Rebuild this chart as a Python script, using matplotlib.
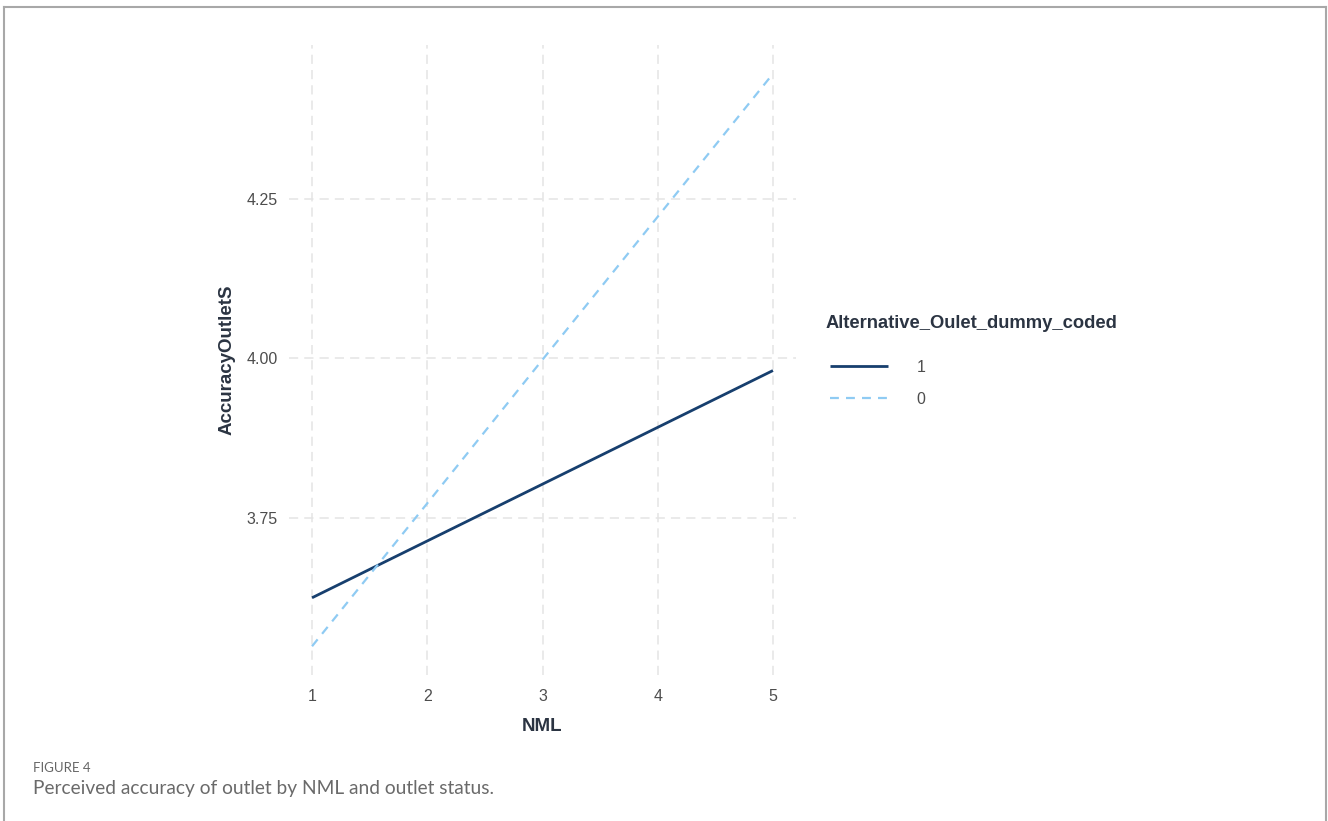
import matplotlib
matplotlib.use("Agg")
import matplotlib.pyplot as plt
from matplotlib.lines import Line2D

# predicted values
nml = [1, 2, 3, 4, 5]
acc_outlet_1 = [3.625, 3.714, 3.803, 3.892, 3.981]
acc_outlet_0 = [3.549, 3.773, 3.998, 4.222, 4.446]
group_labels = ["1", "0"]
legend_title = "Alternative_Oulet_dummy_coded"
x_ticks = [1, 2, 3, 4, 5]
y_ticks = [3.75, 4.00, 4.25]
y_tick_labels = ["3.75", "4.00", "4.25"]

NAVY = "#173F6E"
LIGHT = "#8FCBF3"
GRID = "#E4E4E4"
TICK = "#4D4D4D"
TITLE = "#2B3442"

plt.rcParams["font.family"] = ["Liberation Sans", "DejaVu Sans"]

W, H = 1328, 821
fig = plt.figure(figsize=(W / 100, H / 100), dpi=100)

# panel in pixels: x 289..796, y 45..675
ax = fig.add_axes([289 / W, 1 - 675 / H, (796 - 289) / W, (675 - 45) / H])
ax.plot(nml, acc_outlet_1, color=NAVY, lw=2.0, label=group_labels[0], solid_capstyle="butt")
ax.plot(nml, acc_outlet_0, color=LIGHT, lw=1.6, ls=(0, (4, 3.2)), label=group_labels[1])

ax.set_xlim(0.8, 5.2)
ax.set_ylim(3.504, 4.491)
ax.set_xticks(x_ticks)
ax.set_yticks(y_ticks)
ax.set_yticklabels(y_tick_labels)
ax.grid(True, color=GRID, lw=1.1, ls=(0, (6, 4)))
ax.set_axisbelow(True)
for s in ax.spines.values():
    s.set_visible(False)
ax.tick_params(length=0, labelsize=11.5, colors=TICK)
ax.tick_params(axis="x", pad=10)
ax.tick_params(axis="y", pad=8)

ax.set_xlabel("NML", fontsize=13.5, fontweight="bold", color=TITLE, labelpad=10)
ax.set_ylabel("AccuracyOutletS", fontsize=13.5, fontweight="bold", color=TITLE, labelpad=8)

# legend title as its own text, entries from the plotted lines
fig.text(826 / W, 1 - 323 / H, legend_title, fontsize=13.2, fontweight="bold",
         color=TITLE, va="center", ha="left")
leg = ax.legend(
    loc="upper left",
    bbox_to_anchor=(830 / W, 1 - 360 / H),
    bbox_transform=fig.transFigure,
    frameon=False,
    fontsize=11.5,
    borderpad=0,
    borderaxespad=0,
    handlelength=3.6,
    handletextpad=1.8,
    labelspacing=1.05,
)
for t in leg.get_texts():
    t.set_color(TICK)

# outer frame of the figure box
frame_kw = dict(color="#A8A8A8", lw=1.5, transform=fig.transFigure)
fig.add_artist(Line2D([4 / W, 4 / W], [0, 1 - 7 / H], **frame_kw))
fig.add_artist(Line2D([4 / W, 1326 / W], [1 - 7 / H, 1 - 7 / H], **frame_kw))
fig.add_artist(Line2D([1326 / W, 1326 / W], [0, 1 - 7 / H], **frame_kw))

# caption
fig.text(33 / W, 1 - 768 / H, "FIGURE 4", fontsize=9.5, color="#666666",
         family=["Lato", "DejaVu Sans"], va="center")
fig.text(33 / W, 1 - 788 / H, "Perceived accuracy of outlet by NML and outlet status.",
         fontsize=13.8, color="#6A6A6A", family=["Lato", "DejaVu Sans"], va="center")

fig.savefig("out.png", dpi=100)
